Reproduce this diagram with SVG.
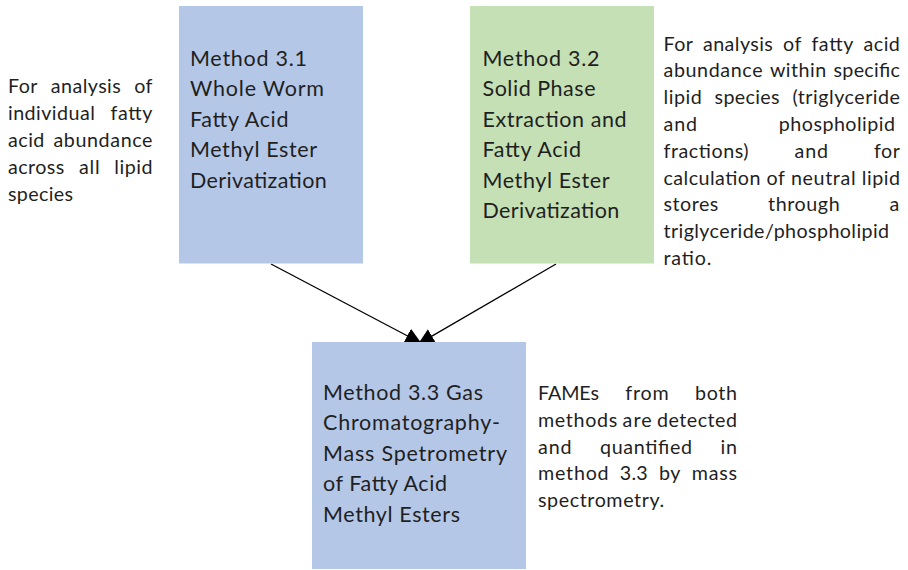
<svg xmlns="http://www.w3.org/2000/svg" width="908" height="570" viewBox="0 0 908 570">
  <style>
    text { font-family: Lato, "Liberation Sans", sans-serif; fill: #1f1f1f; }
    .ann { font-size: 19.7px; }
    .lbl { font-size: 21.5px; }
    .blue { fill: #B4C7E7; }
    .green { fill: #C5E0B4; }
    .conn { stroke: #000; stroke-width: 1.3; fill: none; marker-end: url(#arrow); }
  </style>
  <defs>
    <marker id="arrow" markerUnits="userSpaceOnUse" markerWidth="16" markerHeight="16" refX="16" refY="8" orient="auto">
      <path d="M0,0 L16,8 L0,16 z" fill="#000"/>
    </marker>
  </defs>
  <rect width="908" height="570" fill="#fff"/>

  <g id="connectors">
    <line class="conn" x1="271" y1="264" x2="421.4" y2="343.3"/>
    <line class="conn" x1="556" y1="264" x2="418.1" y2="344.1"/>
  </g>

  <g id="note-left" class="ann">
    <text x="8" y="93.3" textLength="29.4">For</text>
    <text x="50.85" y="93.3" textLength="69.9">analysis</text>
    <text x="134.2" y="93.3" textLength="18.3">of</text>
    <text x="8" y="120.1" textLength="86.8">individual</text>
    <text x="110.5" y="120.1" textLength="42">fatty</text>
    <text x="8" y="146.9" textLength="36.4">acid</text>
    <text x="53.4" y="146.9" textLength="99.1">abundance</text>
    <text x="8" y="173.7" textLength="56.3">across</text>
    <text x="79" y="173.7" textLength="20.6">all</text>
    <text x="114.3" y="173.7" textLength="38.2">lipid</text>
    <text x="8" y="200.5" textLength="65">species</text>
  </g>

  <g id="node-3-1">
    <rect class="blue" x="179" y="6" width="184" height="257.5"/>
    <g class="lbl">
      <text x="190" y="66" textLength="117">Method 3.1</text>
      <text x="190" y="96.4" textLength="134">Whole Worm</text>
      <text x="190" y="126.8" textLength="98.5">Fatty Acid</text>
      <text x="190" y="157.2" textLength="127">Methyl Ester</text>
      <text x="190" y="187.6" textLength="136.7">Derivatization</text>
    </g>
  </g>

  <g id="node-3-2">
    <rect class="green" x="470" y="6" width="184" height="257.5"/>
    <g class="lbl">
      <text x="482.5" y="66" textLength="117">Method 3.2</text>
      <text x="482.5" y="96.4" textLength="113">Solid Phase</text>
      <text x="482.5" y="126.8" textLength="144">Extraction and</text>
      <text x="482.5" y="157.2" textLength="98.5">Fatty Acid</text>
      <text x="482.5" y="187.6" textLength="127">Methyl Ester</text>
      <text x="482.5" y="218" textLength="136.7">Derivatization</text>
    </g>
  </g>

  <g id="note-right" class="ann">
    <text x="663.5" y="50.5" textLength="29.4">For</text>
    <text x="703" y="50.5" textLength="69.9">analysis</text>
    <text x="783" y="50.5" textLength="18.3">of</text>
    <text x="811.4" y="50.5" textLength="42">fatty</text>
    <text x="863.5" y="50.5" textLength="36.4">acid</text>
    <text x="663.5" y="77.3" textLength="99.1">abundance</text>
    <text x="769.9" y="77.3" textLength="56.3">within</text>
    <text x="833.5" y="77.3" textLength="66.5">specific</text>
    <text x="663.5" y="104.1" textLength="38.2">lipid</text>
    <text x="714.55" y="104.1" textLength="65">species</text>
    <text x="792.4" y="104.1" textLength="107.6">(triglyceride</text>
    <text x="663.5" y="130.9" textLength="33.6">and</text>
    <text x="778.8" y="130.9" textLength="116.2">phospholipid</text>
    <text x="663.5" y="157.7" textLength="85.1">fractions)</text>
    <text x="794.5" y="157.7" textLength="33.6">and</text>
    <text x="874" y="157.7" textLength="26">for</text>
    <text x="663.5" y="184.5" textLength="96.9">calculation</text>
    <text x="766.5" y="184.5" textLength="18.3">of</text>
    <text x="790.9" y="184.5" textLength="64.7">neutral</text>
    <text x="861.8" y="184.5" textLength="38.2">lipid</text>
    <text x="663.5" y="211.3" textLength="54.8">stores</text>
    <text x="768" y="211.3" textLength="71.7">through</text>
    <text x="889.5" y="211.3" textLength="10.5">a</text>
    <text x="663.5" y="238.1" textLength="225.6">triglyceride/phospholipid</text>
    <text x="663.5" y="264.9" textLength="47.8">ratio.</text>
  </g>

  <g id="node-3-3">
    <rect class="blue" x="312" y="342" width="214" height="227"/>
    <g class="lbl">
      <text x="323" y="400" textLength="160">Method 3.3 Gas</text>
      <text x="323" y="430.4" textLength="177">Chromatography-</text>
      <text x="323" y="460.8" textLength="184">Mass Spetrometry</text>
      <text x="323" y="491.2" textLength="124">of Fatty Acid</text>
      <text x="323" y="521.6" textLength="137">Methyl Esters</text>
    </g>
  </g>

  <g id="note-bottom" class="ann">
    <text x="538" y="400" textLength="61">FAMEs</text>
    <text x="625.2" y="400" textLength="43.6">from</text>
    <text x="695" y="400" textLength="42">both</text>
    <text x="538" y="426.8" textLength="79.2">methods</text>
    <text x="622.5" y="426.8" textLength="29.2">are</text>
    <text x="657" y="426.8" textLength="80">detected</text>
    <text x="538" y="453.6" textLength="33.6">and</text>
    <text x="600.1" y="453.6" textLength="91.9">quantified</text>
    <text x="720.4" y="453.6" textLength="16.6">in</text>
    <text x="538" y="480.4" textLength="70.6">method</text>
    <text x="619.8" y="480.4" textLength="27.9">3.3</text>
    <text x="658.9" y="480.4" textLength="21.5">by</text>
    <text x="691.7" y="480.4" textLength="45.3">mass</text>
    <text x="538" y="507.2" textLength="126.1">spectrometry.</text>
  </g>
</svg>
